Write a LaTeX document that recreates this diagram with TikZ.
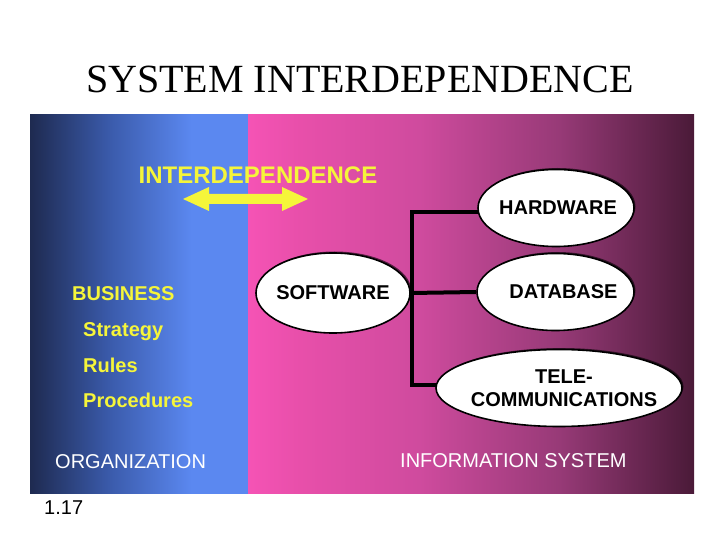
\documentclass[tikz,border=0pt]{standalone}
\usepackage{fontspec}
\setmainfont{Liberation Sans}
\newfontfamily\titlefont{Liberation Serif}
\usetikzlibrary{shapes.geometric,shadows}
\definecolor{navy}{HTML}{1E2A50}
\definecolor{bluemid}{HTML}{3A5AAA}
\definecolor{lblue}{HTML}{5B88F0}
\definecolor{pinkc}{HTML}{F553B5}
\definecolor{pink2}{HTML}{E84FAA}
\definecolor{pink3}{HTML}{CF4B9E}
\definecolor{pink4}{HTML}{973A77}
\definecolor{maroon}{HTML}{4A1A38}
\definecolor{yel}{HTML}{F5F53A}
\pgfdeclarehorizontalshading{lpanel}{100bp}{color(0bp)=(navy); color(25bp)=(navy); color(43bp)=(bluemid); color(62bp)=(lblue); color(100bp)=(lblue)}
\pgfdeclarehorizontalshading{rpanel}{100bp}{color(0bp)=(pinkc); color(25bp)=(pinkc); color(30.8bp)=(pink2); color(44.2bp)=(pink3); color(59.9bp)=(pink4); color(75bp)=(maroon); color(100bp)=(maroon)}
\tikzset{
  bigtxt/.style={inner sep=0pt, font=\fontsize{24bp}{28bp}\selectfont\bfseries, text=yel},
  ytxt/.style={inner sep=0pt, anchor=base west, font=\fontsize{20bp}{24bp}\selectfont\bfseries, text=yel},
  wtxt/.style={inner sep=0pt, anchor=base west, font=\fontsize{20bp}{24bp}\selectfont, text=white},
  oval/.style={ellipse, draw=black, line width=1.6bp, fill=white, inner xsep=-30bp, inner ysep=-6bp,
    font=\fontsize{20bp}{24bp}\selectfont\bfseries, align=center,
    drop shadow={shadow xshift=1.5bp, shadow yshift=1.5bp, opacity=0.6, fill=black}},
  conn/.style={line width=4bp, draw=black}
}
\begin{document}
\begin{tikzpicture}[x=1bp,y=-1bp]
\useasboundingbox (0,0) rectangle (720,540);
\fill[white] (0,0) rectangle (720,540);
% background panels
\shade[shading=lpanel] (30,115) rectangle (248,493);
\shade[shading=rpanel] (248,115) rectangle (694,493);
% title
\node[inner sep=0pt, anchor=base, font=\fontsize{40bp}{48bp}\selectfont\titlefont] (title) at (360,93) {SYSTEM INTERDEPENDENCE};
% interdependence label and arrow
\node[bigtxt, anchor=base] (inter) at (258,184) {INTERDEPENDENCE};
\fill[yel] (183,199) -- (209,187) -- (209,194) -- (282,194) -- (282,187) -- (308,199)
  -- (282,211) -- (282,204) -- (209,204) -- (209,211) -- cycle;
% left texts
\node[ytxt] (bus) at (72,300) {BUSINESS};
\node[ytxt] (strat) at (83,336) {Strategy};
\node[ytxt] (rules) at (83,372) {Rules};
\node[ytxt] (proc) at (83,407) {Procedures};
\node[wtxt] (org) at (55,468) {ORGANIZATION};
\node[wtxt] (info) at (400,467) {INFORMATION SYSTEM};
\node[inner sep=0pt, anchor=base west, font=\fontsize{20bp}{24bp}\selectfont] (num) at (44,514) {1.17};
% ellipses
\node[oval, minimum width=154bp, minimum height=80bp] (sw) at (333,293) {SOFTWARE};
\node[oval, minimum width=156bp, minimum height=77bp] (hw) at (556,208) {\hspace*{4bp}HARDWARE};
\node[oval, minimum width=157bp, minimum height=77bp] (db) at (555.5,292) {\hspace*{16bp}DATABASE};
\node[oval, minimum width=246bp, minimum height=77bp] (tc) at (559,388) {\hspace*{10bp}TELE-\\[-1bp]\hspace*{10bp}COMMUNICATIONS};
% connectors
\coordinate (j1) at (412,212);
\coordinate (j3) at (412,385);
\draw[conn] ([xshift=0.6bp]hw.west |- j1) -- (j1) -- (j3) -- ([xshift=0.6bp]tc.west |- j3);
\draw[conn] (sw.east) -- (db.west);
\end{tikzpicture}
\end{document}
